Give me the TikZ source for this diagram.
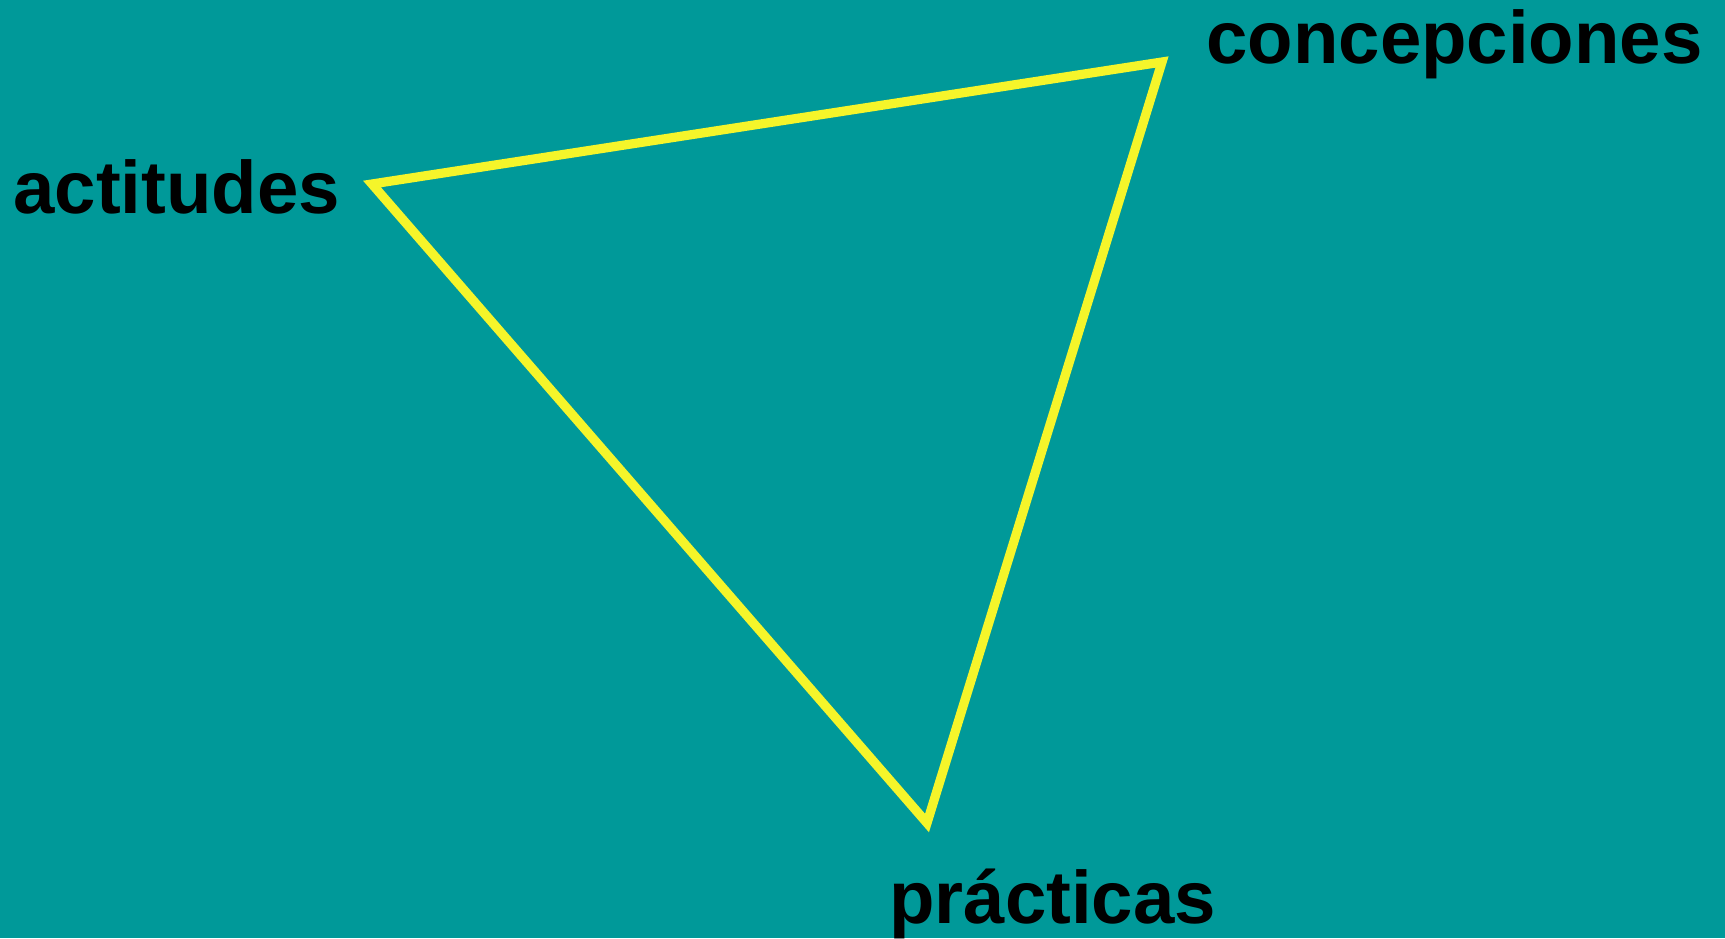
\documentclass[tikz,border=0pt]{standalone}
\usepackage{fontspec}
\setmainfont{Liberation Sans}
\usepackage{tikz}
\usetikzlibrary{positioning}
\definecolor{fondoteal}{RGB}{0,153,153}
\definecolor{trianguloamarillo}{RGB}{245,245,42}
\tikzset{
  etiqueta/.style={font=\fontsize{37.2}{40}\selectfont\bfseries,text=black,inner sep=0pt,anchor=base west},
  lado/.style={trianguloamarillo,line width=4.6pt,line join=miter}
}
\begin{document}
\begin{tikzpicture}[x=0.5pt,y=-0.5pt]
% background
\fill[fondoteal] (0,0) rectangle (1725,938);
\useasboundingbox (0,0) rectangle (1725,938);
% vertices of the triangle
\coordinate (act) at (372,184);
\coordinate (conc) at (1162,62);
\coordinate (prac) at (927,823);
\draw[lado] (act) -- (conc) -- (prac) -- cycle;
% labels
\node[etiqueta] (lact) at (13,213) {actitudes};
\node[etiqueta] (lconc) at (1206,63) {concepciones};
\node[etiqueta] (lprac) at (889,923) {prácticas};
\end{tikzpicture}
\end{document}
